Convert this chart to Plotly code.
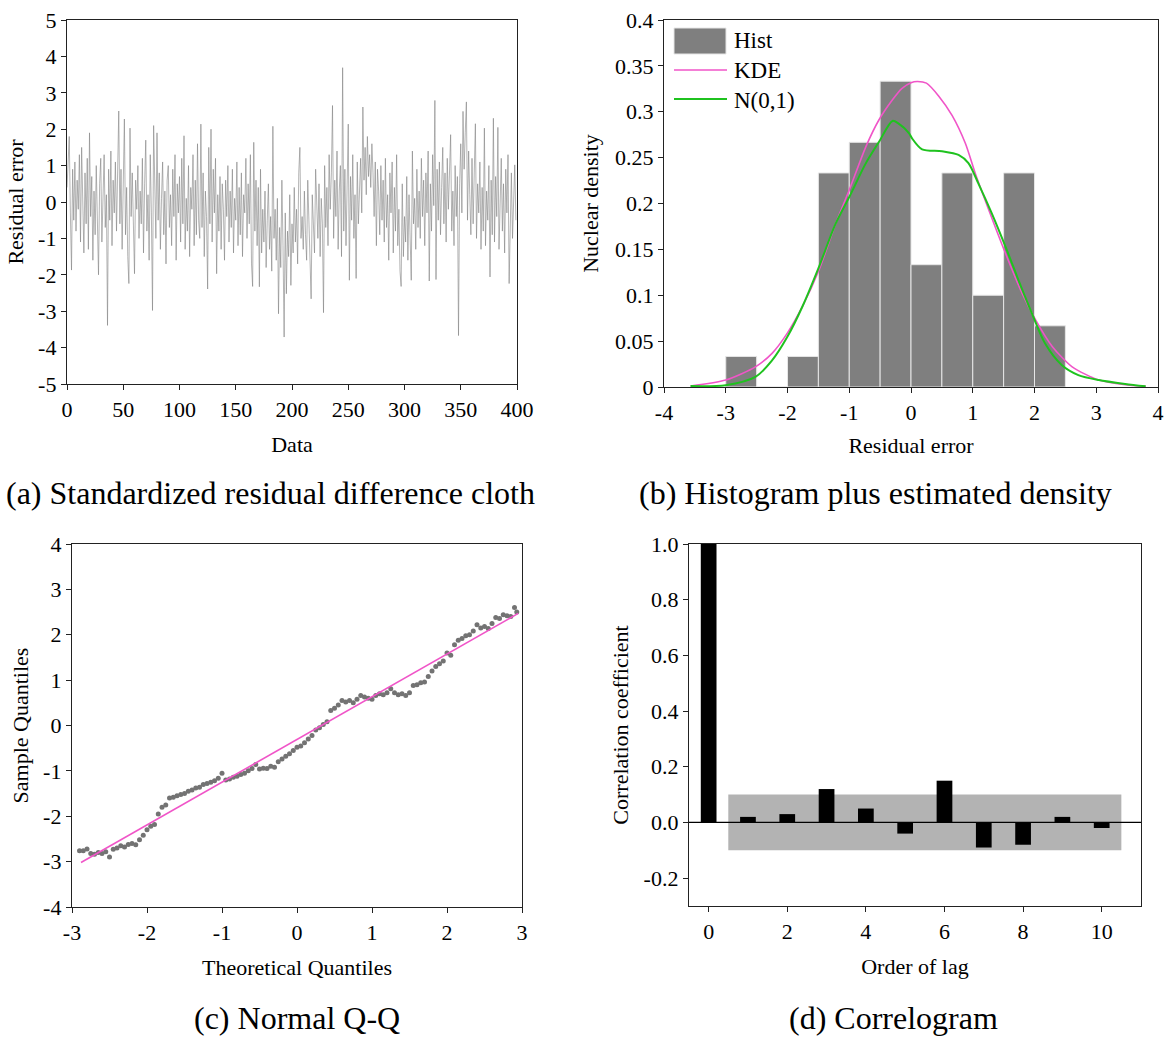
import plotly.graph_objects as go

W, H = 1171, 1037
FONT = "Liberation Serif, Times New Roman, serif"

# ---------------- (a) residual series ----------------
residual_values = [
    0.4, 1.2, 1.8, -0.3, -1.87, 0.9, -0.5, 1.1, -0.8, 0.6,
    -0.2, 1.3, -1.1, 1.5, 0.2, -1.4, 0.8, -0.6, 1.2, -1.3,
    1.9, -0.4, 0.7, -1.6, 0.3, -0.9, 1.0, -0.2, -2.0, 0.5,
    1.2, -1.1, 0.4, 1.3, -0.7, 0.2, -3.39, 0.9, -0.5, 1.4,
    -1.2, 0.6, -0.3, 1.1, -0.8, 0.5, 2.5, -0.6, 0.9, -1.3,
    0.7, 2.28, -0.9, 0.4, -1.5, -2.24, 2.03, -0.4, 0.8, -1.2,
    -1.97, 0.6, -0.2, 1.0, -1.0, 0.3, -0.6, 1.2, -1.4, 0.5,
    1.7, -0.8, 0.2, -1.6, 1.3, -0.3, -2.98, 2.1, 0.4, -1.0,
    1.9, -0.5, 0.8, -1.3, 0.1, 1.1, -0.9, 0.3, -1.7, 0.6,
    1.0, -0.7, 0.2, -1.2, 0.9, -0.4, 1.3, -1.6, 0.5, -0.3,
    0.7, -1.1, 1.2, -0.6, 1.82, -1.3, 0.1, -0.8, 1.0, -1.5,
    0.4, -0.2, 1.3, -1.2, 0.6, -0.9, 1.6, -0.5, -1.0, 2.14,
    -0.7, 0.8, -1.5, 0.3, -0.4, -2.39, 1.5, -0.6, 2.0, -1.1,
    0.9, -0.3, 1.2, -1.97, 0.2, -0.8, 0.7, -1.3, 0.5, -0.2,
    -1.6, 0.6, -0.4, 1.0, -1.1, 0.3, -0.7, 0.9, -1.4, 0.1,
    -0.5, 1.1, -1.2, 0.4, -0.9, 0.8, -1.5, 0.2, -0.3, 1.2,
    -1.0, 0.5, -0.6, 1.3, -1.7, -2.32, 1.64, -0.8, 0.6, -1.2,
    0.4, -2.33, 0.9, -1.4, -0.2, -1.1, 0.3, -1.8, -0.5, 0.5,
    -1.3, -0.4, -1.9, 2.08, -1.0, -0.2, -1.6, 0.1, -3.07, -0.7,
    -1.8, 0.6, -1.2, -3.71, -0.3, -2.52, -0.8, -1.5, 0.2, -2.29,
    -0.6, -1.4, 0.4, -1.1, -0.2, -1.7, 0.8, 1.5, -1.0, -0.4,
    -1.3, 0.3, -0.9, -1.6, 0.6, -0.5, -1.2, -2.66, 0.2, -0.8,
    -1.4, 0.9, -0.3, -1.0, 0.5, -1.5, 0.1, -0.6, -3.04, 1.0,
    -0.7, 0.4, -1.2, 1.3, -0.2, 0.8, 2.65, -1.0, 0.6, -0.4,
    1.4, -1.3, 0.3, 1.0, -1.5, 3.69, -0.8, 0.9, -1.2, 0.4,
    2.14, -2.15, 0.7, -0.5, 1.3, -1.0, 0.2, -2.1, 1.1, -0.6,
    0.5, 1.2, -0.3, 2.61, 0.6, 1.5, 0.2, 1.8, 0.7, 1.3,
    0.4, 1.6, 0.8, -0.4, 1.1, -1.2, 0.9, 0.3, -0.9, 1.0,
    -0.5, 0.6, -1.1, 1.2, -0.7, 0.2, -1.6, 0.8, -0.3, 1.1,
    -1.4, 0.4, -0.8, 1.3, -1.2, -0.2, -1.9, -2.32, 0.5, -1.5,
    -0.4, -1.1, 0.7, -1.6, 0.2, -0.9, -2.15, 1.4, -0.6, 0.1,
    -1.3, 0.9, -0.7, 0.3, -1.0, 1.2, -0.4, 0.6, -1.2, 0.8,
    -0.3, 1.4, -2.17, 0.5, -0.8, 1.3, -0.1, 2.79, -2.13, 0.9,
    -0.5, 1.1, -0.9, 0.4, 1.5, -0.6, 0.8, -1.1, 1.2, -0.2,
    0.6, 1.85, -0.8, 0.3, -1.2, 1.0, -0.4, 0.7, -3.67, 0.5,
    1.6, -0.3, 2.49, 0.9, 1.9, 2.75, -0.5, 1.4, 0.2, -0.9,
    1.2, -0.6, 0.8, 2.15, -1.0, 0.5, -0.3, 1.1, -1.3, 0.4,
    -0.8, 2.03, -1.2, 0.3, -0.5, 1.0, -2.06, 0.6, -0.9, 2.3,
    -1.1, 0.7, -0.4, 2.05, -1.3, 0.2, 1.2, -0.8, 0.5, -1.4,
    0.9, -0.3, 1.3, -2.24, -0.6, 0.8, -1.0, 0.4, 1.02, -0.5,
]
residual_index = list(range(len(residual_values)))

# ---------------- (b) histogram + densities ----------------
hist_left_edges = [-3.0, -2.5, -2.0, -1.5, -1.0, -0.5, 0.0, 0.5, 1.0, 1.5, 2.0]
hist_density = [0.0333, 0.0, 0.0333, 0.2333, 0.2667, 0.3333, 0.1333, 0.2333, 0.1, 0.2333, 0.0667]
hist_bin_width = 0.5

kde_x = [-3.57, -3.0, -2.52, -2.25, -2.0, -1.76, -1.49, -1.22, -1.0, -0.73, -0.52, -0.30,
         -0.15, 0.0, 0.1, 0.25, 0.45, 0.665, 0.88, 1.04, 1.26, 1.53, 1.80, 2.02, 2.29, 2.61,
         3.04, 3.47, 3.8]
kde_y = [0.001, 0.0076, 0.022, 0.0367, 0.059, 0.0875, 0.1275, 0.178, 0.2147, 0.262, 0.291,
         0.313, 0.3253, 0.3317, 0.333, 0.3312, 0.317, 0.296, 0.2656, 0.233, 0.193, 0.1457,
         0.102, 0.073, 0.044, 0.022, 0.0076, 0.0025, 0.0007]

norm_x = [-3.57, -3.0, -2.52, -2.25, -2.0, -1.76, -1.49, -1.22, -1.0, -0.73, -0.52, -0.30,
          -0.2, -0.03, 0.017, 0.18, 0.50, 0.77, 0.93, 1.09, 1.31, 1.53, 1.74, 1.96, 2.17,
          2.44, 2.71, 3.04, 3.47, 3.8]
norm_y = [0.001, 0.002, 0.011, 0.029, 0.055, 0.0875, 0.131, 0.178, 0.207, 0.244, 0.267,
          0.290, 0.287, 0.2765, 0.271, 0.259, 0.257, 0.253, 0.244, 0.222, 0.189, 0.153,
          0.1166, 0.080, 0.0476, 0.024, 0.013, 0.0076, 0.0033, 0.0007]

# ---------------- (c) normal Q-Q ----------------
qq_theoretical = [
    -2.90, -2.85, -2.80, -2.75, -2.70, -2.65, -2.60, -2.55, -2.50, -2.45,
    -2.40, -2.35, -2.30, -2.25, -2.20, -2.15, -2.10, -2.05, -2.00, -1.95,
    -1.90, -1.85, -1.80, -1.75, -1.70, -1.65, -1.60, -1.55, -1.50, -1.45,
    -1.40, -1.35, -1.30, -1.25, -1.20, -1.15, -1.10, -1.05, -1.00, -0.95,
    -0.90, -0.85, -0.80, -0.75, -0.70, -0.65, -0.60, -0.55, -0.50, -0.45,
    -0.40, -0.35, -0.30, -0.25, -0.20, -0.15, -0.10, -0.05, 0.00, 0.05,
    0.10, 0.15, 0.20, 0.25, 0.30, 0.35, 0.40, 0.45, 0.50, 0.55,
    0.60, 0.65, 0.70, 0.75, 0.80, 0.85, 0.90, 0.95, 1.00, 1.05,
    1.10, 1.15, 1.20, 1.25, 1.30, 1.35, 1.40, 1.45, 1.50, 1.55,
    1.60, 1.65, 1.70, 1.75, 1.80, 1.85, 1.90, 1.95, 2.00, 2.05,
    2.10, 2.15, 2.20, 2.25, 2.30, 2.35, 2.40, 2.45, 2.50, 2.55,
    2.60, 2.65, 2.70, 2.75, 2.80, 2.85, 2.90, 2.93,
]
qq_sample = [
    -2.76, -2.76, -2.72, -2.82, -2.84, -2.80, -2.82, -2.78, -2.90, -2.73,
    -2.70, -2.65, -2.68, -2.62, -2.60, -2.63, -2.52, -2.42, -2.30, -2.22,
    -2.18, -1.95, -1.80, -1.75, -1.60, -1.58, -1.55, -1.52, -1.50, -1.45,
    -1.42, -1.38, -1.36, -1.30, -1.28, -1.25, -1.22, -1.16, -1.05, -1.20,
    -1.18, -1.14, -1.12, -1.08, -1.05, -1.00, -0.95, -0.86, -0.96, -0.94,
    -0.95, -0.90, -0.92, -0.80, -0.74, -0.68, -0.62, -0.55, -0.48, -0.45,
    -0.38, -0.30, -0.22, -0.10, -0.05, 0.02, 0.08, 0.33, 0.38, 0.45,
    0.55, 0.52, 0.55, 0.50, 0.58, 0.66, 0.63, 0.60, 0.58, 0.66,
    0.70, 0.68, 0.72, 0.81, 0.72, 0.68, 0.70, 0.66, 0.72, 0.88,
    0.90, 0.94, 0.96, 1.08, 1.20, 1.30, 1.36, 1.42, 1.60, 1.55,
    1.78, 1.88, 1.92, 1.98, 2.00, 2.08, 2.22, 2.15, 2.18, 2.14,
    2.25, 2.38, 2.36, 2.44, 2.42, 2.40, 2.60, 2.50,
]
qq_line_x = [-2.88, 2.95]
qq_line_y = [-3.02, 2.47]

# ---------------- (d) correlogram ----------------
lags = [0, 1, 2, 3, 4, 5, 6, 7, 8, 9, 10]
acf_values = [1.0, 0.02, 0.03, 0.12, 0.05, -0.04, 0.15, -0.09, -0.08, 0.02, -0.02]
band_x = [0.5, 10.5]
band_y = [-0.1, 0.1]

# ---------------- helpers ----------------
def px(x):
    return x / W

def py(y):
    return 1 - y / H

fig = go.Figure()

# (a)
fig.add_trace(go.Scatter(x=residual_index, y=residual_values, mode="lines",
                         line=dict(color="rgba(130,130,130,0.6)", width=1),
                         xaxis="x", yaxis="y", showlegend=False))

# (b)
fig.add_trace(go.Bar(x=hist_left_edges, y=hist_density, width=hist_bin_width, offset=0,
                     marker=dict(color="#7f7f7f", line=dict(color="#e6e6e6", width=1)),
                     xaxis="x2", yaxis="y2", showlegend=False))
fig.add_trace(go.Scatter(x=kde_x, y=kde_y, mode="lines",
                         line=dict(color="#f055c8", width=1.6, shape="spline", smoothing=0.7),
                         xaxis="x2", yaxis="y2", showlegend=False))
fig.add_trace(go.Scatter(x=norm_x, y=norm_y, mode="lines",
                         line=dict(color="#1fc21f", width=2, shape="spline", smoothing=0.8),
                         xaxis="x2", yaxis="y2", showlegend=False))

# (c)
fig.add_trace(go.Scatter(x=qq_theoretical, y=qq_sample, mode="markers",
                         marker=dict(color="#737373", size=5),
                         xaxis="x3", yaxis="y3", showlegend=False))
fig.add_trace(go.Scatter(x=qq_line_x, y=qq_line_y, mode="lines",
                         line=dict(color="#f055c8", width=1.6),
                         xaxis="x3", yaxis="y3", showlegend=False))

# (d)
fig.add_trace(go.Bar(x=lags, y=acf_values, width=0.4, marker=dict(color="black", line=dict(width=0)),
                     xaxis="x4", yaxis="y4", showlegend=False))

tickfont = dict(family=FONT, size=22, color="black")
titlefont = dict(family=FONT, size=22, color="black")
axis_common = dict(showline=True, linecolor="#222", linewidth=1.3, mirror=True,
                   ticks="outside", ticklen=5, tickwidth=1.2, tickcolor="#222",
                   showgrid=False, zeroline=False, tickfont=tickfont, automargin=False)

fig.update_layout(
    template="none",
    width=W, height=H, margin=dict(l=0, r=0, t=0, b=0, pad=0, autoexpand=False),
    paper_bgcolor="white", plot_bgcolor="white",
    font=dict(family=FONT, color="black"),
    barmode="overlay", showlegend=False,
    xaxis=dict(domain=[px(67), px(517)], anchor="y", range=[0, 400], tickvals=[0, 50, 100, 150, 200, 250, 300, 350, 400],
               title=dict(text="Data", font=titlefont, standoff=16), **axis_common),
    yaxis=dict(domain=[py(384), py(20)], anchor="x", range=[-5, 5],
               tickvals=[-5, -4, -3, -2, -1, 0, 1, 2, 3, 4, 5],
               ticktext=["-5", "-4", "-3", "-2", "-1", "0", "1", "2", "3", "4", "5"],
               title=dict(text="Residual error", font=titlefont, standoff=8), **axis_common),
    xaxis2=dict(domain=[px(664), px(1158)], anchor="y2", range=[-4, 4],
                tickvals=[-4, -3, -2, -1, 0, 1, 2, 3, 4],
                ticktext=["-4", "-3", "-2", "-1", "0", "1", "2", "3", "4"],
                title=dict(text="Residual error", font=titlefont, standoff=14), **axis_common),
    yaxis2=dict(domain=[py(387), py(20)], anchor="x2", range=[0, 0.4],
                tickvals=[0, 0.05, 0.1, 0.15, 0.2, 0.25, 0.3, 0.35, 0.4],
                ticktext=["0", "0.05", "0.1", "0.15", "0.2", "0.25", "0.3", "0.35", "0.4"],
                title=dict(text="Nuclear density", font=titlefont, standoff=10), **axis_common),
    xaxis3=dict(domain=[px(72), px(522)], anchor="y3", range=[-3, 3],
                tickvals=[-3, -2, -1, 0, 1, 2, 3],
                ticktext=["-3", "-2", "-1", "0", "1", "2", "3"],
                title=dict(text="Theoretical Quantiles", font=titlefont, standoff=16), **axis_common),
    yaxis3=dict(domain=[py(907), py(544)], anchor="x3", range=[-4, 4],
                tickvals=[-4, -3, -2, -1, 0, 1, 2, 3, 4],
                ticktext=["-4", "-3", "-2", "-1", "0", "1", "2", "3", "4"],
                title=dict(text="Sample Quantiles", font=titlefont, standoff=8), **axis_common),
    xaxis4=dict(domain=[px(689), px(1141)], anchor="y4", range=[-0.5, 11],
                tickvals=[0, 2, 4, 6, 8, 10],
                title=dict(text="Order of lag", font=titlefont, standoff=16), **axis_common),
    yaxis4=dict(domain=[py(906), py(544)], anchor="x4", range=[-0.3, 1.0],
                tickvals=[-0.2, 0, 0.2, 0.4, 0.6, 0.8, 1.0],
                ticktext=["-0.2", "0.0", "0.2", "0.4", "0.6", "0.8", "1.0"],
                title=dict(text="Correlation coefficient", font=titlefont, standoff=8), **axis_common),
)

# confidence band (below bars) and zero line in correlogram
fig.add_shape(type="rect", xref="x4", yref="y4", x0=band_x[0], x1=band_x[1],
              y0=band_y[0], y1=band_y[1], fillcolor="#b3b3b3", line=dict(width=0), layer="below")
fig.add_shape(type="line", xref="x4 domain", yref="y4", x0=0, x1=1, y0=0, y1=0,
              line=dict(color="black", width=1.3))

# manual legend for (b)
fig.add_shape(type="rect", xref="paper", yref="paper", x0=px(674), x1=px(726), y0=py(54), y1=py(28),
              fillcolor="#7f7f7f", line=dict(color="#e6e6e6", width=1))
fig.add_shape(type="line", xref="paper", yref="paper", x0=px(674), x1=px(727), y0=py(70), y1=py(70),
              line=dict(color="#f055c8", width=1.6))
fig.add_shape(type="line", xref="paper", yref="paper", x0=px(674), x1=px(727), y0=py(99), y1=py(99),
              line=dict(color="#1fc21f", width=2))
for label, yy in [("Hist", 41), ("KDE", 71), ("N(0,1)", 100)]:
    fig.add_annotation(text=label, xref="paper", yref="paper", x=px(732), y=py(yy),
                       xanchor="left", yanchor="middle", showarrow=False,
                       font=dict(family=FONT, size=23, color="black"))

# captions
captions = [("(a) Standardized residual difference cloth", 270, 493),
            ("(b) Histogram plus estimated density", 875, 493),
            ("(c) Normal Q-Q", 297, 1018),
            ("(d) Correlogram", 893, 1018)]
for text, cx, cy in captions:
    fig.add_annotation(text=text, xref="paper", yref="paper", x=px(cx), y=py(cy),
                       xanchor="center", yanchor="middle", showarrow=False,
                       font=dict(family=FONT, size=32, color="black"))

fig.write_html("out.html", post_script="document.body.style.margin='0';document.body.style.overflow='hidden';")
